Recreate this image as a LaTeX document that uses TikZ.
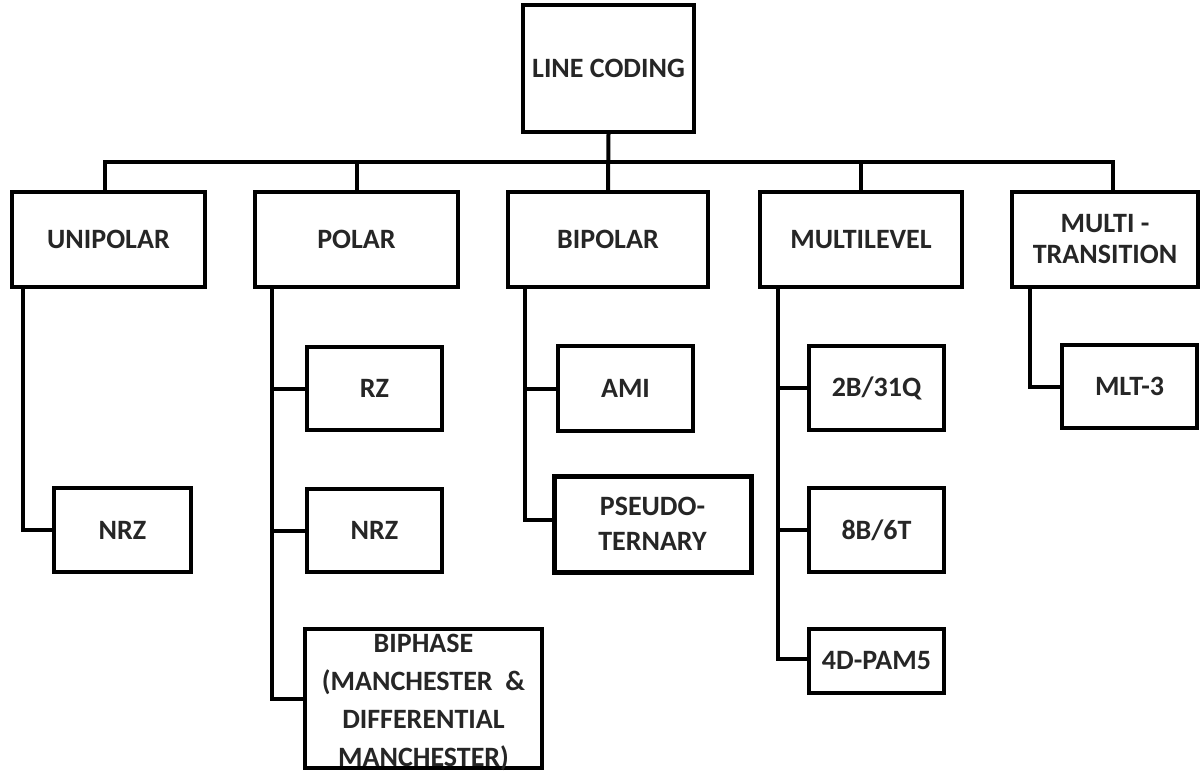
\documentclass[tikz,border=0pt]{standalone}
\usepackage{fontspec}
\setmainfont{Carlito}
\begin{document}
\begin{tikzpicture}[x=1pt,y=-1pt,
  box/.style={draw=black, line width=4pt, fill=white, inner sep=0pt, align=center,
    font=\bfseries\fontsize{28}{31}\selectfont, text=black!85},
  conn/.style={draw=black, line width=4pt}]
\useasboundingbox (0,0) rectangle (1200,774);
% root
\node[box, minimum width=171, minimum height=127] (root) at (608.5,68.5) {LINE CODING};
% level 1
\node[box, minimum width=193, minimum height=95] (uni) at (108.5,239.5) {UNIPOLAR};
\node[box, minimum width=203, minimum height=95] (pol) at (356.5,239.5) {POLAR};
\node[box, minimum width=200, minimum height=95] (bip) at (608,239.5) {BIPOLAR};
\node[box, minimum width=202, minimum height=95] (mul) at (861,239.5) {MULTILEVEL};
\node[box, minimum width=186, minimum height=95] (mt) at (1105,239.5) {MULTI -\\TRANSITION};
% bus
\coordinate (bl) at (105,162);
\coordinate (br) at (1113,162);
\draw[conn] (uni.north -| bl) -- (bl) -- (br) -- (br |- mt.north);
\draw[conn] (root.south) -- (bip.north);
\draw[conn] (pol.north) -- (pol.north |- bl);
\draw[conn] (mul.north) -- (mul.north |- bl);
% children
\node[box, minimum width=137, minimum height=84] (nrza) at (122.5,530) {NRZ};
\node[box, minimum width=135, minimum height=83] (rz) at (374.5,388.5) {RZ};
\node[box, minimum width=135, minimum height=83] (nrzb) at (374.5,530.5) {NRZ};
\node[box, minimum width=237, minimum height=139,
  label={[align=center, yshift=-4pt, font=\bfseries\fontsize{28}{38}\selectfont, text=black!85]center:BIPHASE\\(MANCHESTER\ \ \&\\DIFFERENTIAL\\MANCHESTER)}] (bph) at (423.5,698.5) {};
\node[box, minimum width=135, minimum height=85] (ami) at (625.5,388.5) {AMI};
\node[box, line width=5pt, minimum width=197, minimum height=96,
  font=\bfseries\fontsize{28}{35}\selectfont] (pst) at (652.5,524) {PSEUDO-\\TERNARY};
\node[box, minimum width=135, minimum height=84] (btq) at (876.5,388) {2B/31Q};
\node[box, minimum width=135, minimum height=84] (bst) at (876.5,530) {8B/6T};
\node[box, minimum width=135, minimum height=64] (pam) at (876.5,661) {4D-PAM5};
\node[box, minimum width=135, minimum height=83] (mlt) at (1129.5,386.5) {MLT-3};
% child connectors
\coordinate (ul) at ([xshift=13pt]uni.south west);
\coordinate (pl) at ([xshift=19pt]pol.south west);
\coordinate (bpl) at ([xshift=19pt]bip.south west);
\coordinate (ml) at ([xshift=20pt]mul.south west);
\coordinate (mtl) at ([xshift=20pt]mt.south west);
\draw[conn] (ul) |- (nrza.west);
\draw[conn] (pl) |- (bph.west);
\draw[conn] (rz.west) -- (rz.west -| pl);
\draw[conn] (nrzb.west) -- (nrzb.west -| pl);
\draw[conn] (bpl) |- ([yshift=4pt]pst.west);
\draw[conn] (ami.west) -- (ami.west -| bpl);
\draw[conn] (ml) |- ([yshift=2pt]pam.west);
\draw[conn] (btq.west) -- (btq.west -| ml);
\draw[conn] (bst.west) -- (bst.west -| ml);
\draw[conn] (mtl) |- (mlt.west);
\end{tikzpicture}
\end{document}
